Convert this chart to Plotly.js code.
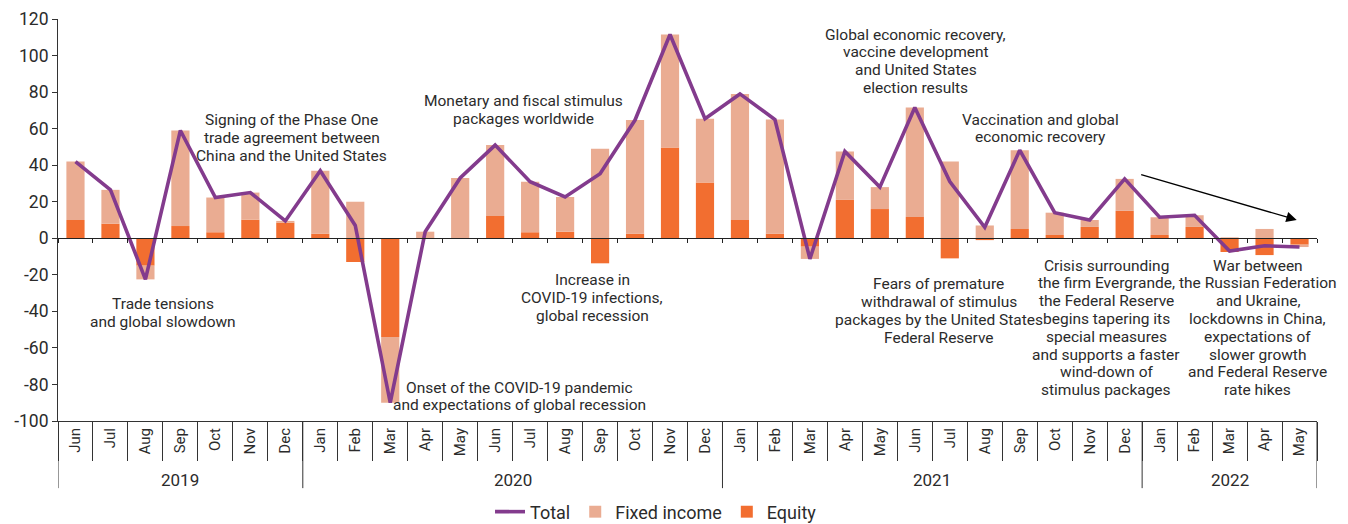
<!DOCTYPE html>
<html>
<head>
<meta charset="utf-8">
<script src="https://cdn.plot.ly/plotly-3.0.1.min.js"></script>
<style>
html,body{margin:0;padding:0;background:#fff;}
#chart{width:1348px;height:524px;}
</style>
</head>
<body>
<div id="chart"></div>
<script>
// ---- Data (monthly flows) ----
const years = ['2019','2019','2019','2019','2019','2019','2019',
  '2020','2020','2020','2020','2020','2020','2020','2020','2020','2020','2020','2020',
  '2021','2021','2021','2021','2021','2021','2021','2021','2021','2021','2021','2021',
  '2022','2022','2022','2022','2022'];
const months = ['Jun','Jul','Aug','Sep','Oct','Nov','Dec',
  'Jan','Feb','Mar','Apr','May','Jun','Jul','Aug','Sep','Oct','Nov','Dec',
  'Jan','Feb','Mar','Apr','May','Jun','Jul','Aug','Sep','Oct','Nov','Dec',
  'Jan','Feb','Mar','Apr','May'];
const equity = [10, 8, -15, 6.7, 3.3, 10.2, 8.6,
  2.5, -13, -54, 0, 0, 12.2, 3.3, 3.6, -13.7, 2.5, 49.7, 30.5,
  10, 2.5, -4.6, 21, 16, 11.7, -11, -1, 5.1, 1.8, 6.2, 15,
  1.8, 6.2, -7.5, -9.2, -3.5];
const fixedIncome = [32, 18.5, -7.5, 52.3, 19, 14.8, 0.9,
  34.5, 20, -36, 3.6, 33, 38.8, 27.7, 19, 49, 62.2, 61.8, 34.9,
  69, 62.5, -6.7, 26.5, 12, 59.9, 42, 7, 43.1, 12.2, 3.8, 17.5,
  9.7, 6.4, 0.5, 5.1, -1.3];
const total = [42, 26.5, -22.5, 59, 22.3, 25, 9.5,
  37, 7, -90, 3.6, 33, 51, 31, 22.6, 35.3, 64.7, 111.5, 65.4,
  79, 65, -11.3, 47.5, 28, 71.6, 31, 6, 48.2, 14, 10, 32.5,
  11.5, 12.6, -7, -4.1, -4.8];
const yTicks = [-100, -80, -60, -40, -20, 0, 20, 40, 60, 80, 100, 120];

// Annotations: [category index, y value of first line, lines]
const notes = [
  [2.49, -36.2, ['Trade tensions', 'and global slowdown']],
  [6.18, 64.5, ['Signing of the Phase One', 'trade agreement between', 'China and the United States']],
  [12.8, 74.9, ['Monetary and fiscal stimulus', 'packages worldwide']],
  [12.7, -81.7, ['Onset of the COVID-19 pandemic', 'and expectations of global recession']],
  [14.77, -22.9, ['Increase in', 'COVID-19 infections,', 'global recession']],
  [24.03, 111.5, ['Global economic recovery,', 'vaccine development', 'and United States', 'election results']],
  [27.6, 64.9, ['Vaccination and global', 'economic recovery']],
  [24.68, -25.2, ['Fears of premature', 'withdrawal of stimulus', 'packages by the United States', 'Federal Reserve']],
  [29.47, -15, ['Crisis surrounding', 'the firm Evergrande,', 'the Federal Reserve', 'begins tapering its', 'special measures', 'and supports a faster', 'wind-down of', 'stimulus packages']],
  [33.81, -15, ['War between', 'the Russian Federation', 'and Ukraine,', 'lockdowns in China,', 'expectations of', 'slower growth', 'and Federal Reserve', 'rate hikes']]
];

const FONT = 'Roboto, "Liberation Sans", sans-serif';
const TXT = '#2b2b2b';
const C_EQ = '#F26E30';
const C_FI = '#EAAC92';
const C_TOT = '#833B8D';
const LINE_H = 17.8;

const idx = months.map((m, i) => i);
const n = months.length;

const traces = [
  {type: 'bar', name: 'Equity', x: idx, y: equity, marker: {color: C_EQ}, legendrank: 3, hoverinfo: 'skip'},
  {type: 'bar', name: 'Fixed income', x: idx, y: fixedIncome, marker: {color: C_FI}, legendrank: 2, hoverinfo: 'skip'},
  {type: 'scatter', mode: 'lines', name: 'Total', x: idx, y: total,
   line: {color: C_TOT, width: 3.6}, legendrank: 1, hoverinfo: 'skip'},
  {type: 'scatter', mode: 'none', x: idx, y: idx.map(() => null), xaxis: 'x2', showlegend: false, hoverinfo: 'skip'},
  {type: 'scatter', mode: 'none', x: idx, y: idx.map(() => null), xaxis: 'x3', showlegend: false, hoverinfo: 'skip'}
];

const annotations = [];
notes.forEach(([xi, yv, lines]) => {
  lines.forEach((ln, k) => {
    annotations.push({xref: 'x', yref: 'y', x: xi, y: yv, yshift: -k * LINE_H,
      text: ln, showarrow: false, xanchor: 'center', yanchor: 'middle',
      font: {family: FONT, size: 15.5, color: TXT}});
  });
});
// trend arrow
annotations.push({xref: 'x', yref: 'y', axref: 'x', ayref: 'y',
  x: 34.92, y: 10, ax: 30.43, ay: 35.1, text: '', showarrow: true,
  arrowhead: 2, arrowsize: 1.6, arrowwidth: 1.3, arrowcolor: '#000'});

// year groups: labels and dividers
const shapes = [];
const groups = [];
years.forEach((yr, i) => {
  if (i === 0 || years[i - 1] !== yr) groups.push({yr: yr, start: i, end: i});
  else groups[groups.length - 1].end = i;
});
const bounds = [-0.5].concat(groups.map(g => g.end + 0.5));
bounds.forEach(b => shapes.push({type: 'line', xref: 'x', yref: 'paper', x0: b, x1: b, y0: 0, y1: -0.167,
  line: {color: '#333', width: 1}}));
groups.forEach(g => annotations.push({xref: 'x', yref: 'paper', x: (g.start + g.end) / 2, y: -0.147,
  text: g.yr, showarrow: false, xanchor: 'center', yanchor: 'middle',
  font: {family: FONT, size: 17, color: TXT}}));

const zeroPos = (0 - yTicks[0]) / (yTicks[yTicks.length - 1] - yTicks[0]);
const xr = [-0.5, n - 0.5];

const layout = {
  width: 1348, height: 524,
  margin: {l: 58, r: 31, t: 19, b: 103, autoexpand: false},
  paper_bgcolor: '#fff', plot_bgcolor: '#fff',
  barmode: 'relative', bargap: 0.48,
  font: {family: FONT, color: TXT, size: 17},
  showlegend: true,
  legend: {orientation: 'h', x: 0.475, xanchor: 'center', yref: 'container', y: 0.023, yanchor: 'middle',
    font: {family: FONT, size: 18, color: TXT}, traceorder: 'normal', itemwidth: 30},
  xaxis: {range: xr, tickvals: idx, ticktext: months, tickangle: -90, ticks: '',
    showline: true, linecolor: '#333', linewidth: 1, automargin: false,
    tickfont: {family: FONT, size: 15, color: TXT}, showgrid: false, zeroline: false},
  xaxis2: {overlaying: 'x', anchor: 'free', position: zeroPos, range: xr,
    showline: true, linecolor: '#222', linewidth: 1.2,
    ticks: 'outside', tick0: 0.5, dtick: 1, ticklen: 4, tickcolor: '#222',
    showticklabels: false, showgrid: false, zeroline: false, fixedrange: true},
  xaxis3: {overlaying: 'x', anchor: 'y', side: 'bottom', range: xr,
    showline: false, ticks: 'outside', tick0: 0.5, dtick: 1, ticklen: 39, tickcolor: '#333',
    showticklabels: false, showgrid: false, zeroline: false, fixedrange: true},
  yaxis: {range: [yTicks[0], yTicks[yTicks.length - 1]], tickvals: yTicks, ticktext: yTicks.map(String),
    ticks: 'outside', ticklen: 5,
    tickcolor: '#333', showline: true, linecolor: '#333', linewidth: 1, showgrid: false, zeroline: false,
    automargin: false, tickfont: {family: FONT, size: 17.5, color: TXT}},
  shapes: shapes,
  annotations: annotations
};

Plotly.newPlot('chart', traces, layout, {displayModeBar: false, staticPlot: true});
</script>
</body>
</html>
